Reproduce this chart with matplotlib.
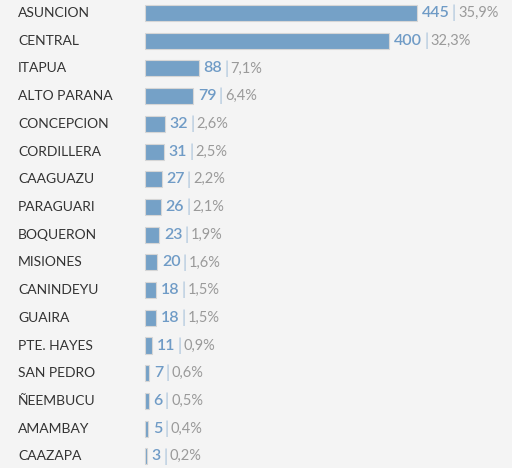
import matplotlib
matplotlib.use("Agg")
import matplotlib.pyplot as plt

# data
departments = ["ASUNCION", "CENTRAL", "ITAPUA", "ALTO PARANA", "CONCEPCION",
               "CORDILLERA", "CAAGUAZU", "PARAGUARI", "BOQUERON", "MISIONES",
               "CANINDEYU", "GUAIRA", "PTE. HAYES", "SAN PEDRO", "ÑEEMBUCU",
               "AMAMBAY", "CAAZAPA"]
counts = [445, 400, 88, 79, 32, 31, 27, 26, 23, 20, 18, 18, 11, 7, 6, 5, 3]
percents = ["35,9%", "32,3%", "7,1%", "6,4%", "2,6%", "2,5%", "2,2%", "2,1%",
            "1,9%", "1,6%", "1,5%", "1,5%", "0,9%", "0,6%", "0,5%", "0,4%", "0,2%"]

bg = "#f4f4f4"
bar_color = "#75a1c7"
value_color = "#6f9bc6"
pct_color = "#9a9a9a"
font = "Lato"

fig = plt.figure(figsize=(5.12, 4.68), dpi=100, facecolor=bg)
ax = fig.add_axes([0, 0, 1, 1])
ax.set_facecolor(bg)

ypos = list(range(len(departments)))
ax.barh(ypos, counts, height=0.58, color=bar_color,
        edgecolor="#d6d6d6", linewidth=0.8)

# x: 0 at px 145, ~0.611 px per unit; y: first row at px 13, 27.7 px apart
ax.set_xlim(-237.3, 600.6)
ax.set_ylim(16.42, -0.47)
ax.axis("off")

for y, name, c, p in zip(ypos, departments, counts, percents):
    ax.text(18 / 512, y, name, transform=ax.get_yaxis_transform(),
            ha="left", va="center", fontsize=10, color="#333333",
            family=font)
    t1 = ax.annotate(str(c), xy=(c, y), xytext=(3.5, 0), textcoords="offset points",
                     ha="left", va="center", fontsize=11.5, color=value_color,
                     fontweight="semibold", family=font)
    t2 = ax.annotate("|", xy=(1, 0.5), xycoords=t1, xytext=(1.5, 0),
                     textcoords="offset points", ha="left", va="center",
                     fontsize=12, color="#a9c3dc", family=font)
    ax.annotate(p, xy=(1, 0.5), xycoords=t2, xytext=(1.5, 0),
                textcoords="offset points", ha="left", va="center",
                fontsize=10.5, color=pct_color, family=font)

fig.savefig("out.png", dpi=100, facecolor=bg)
